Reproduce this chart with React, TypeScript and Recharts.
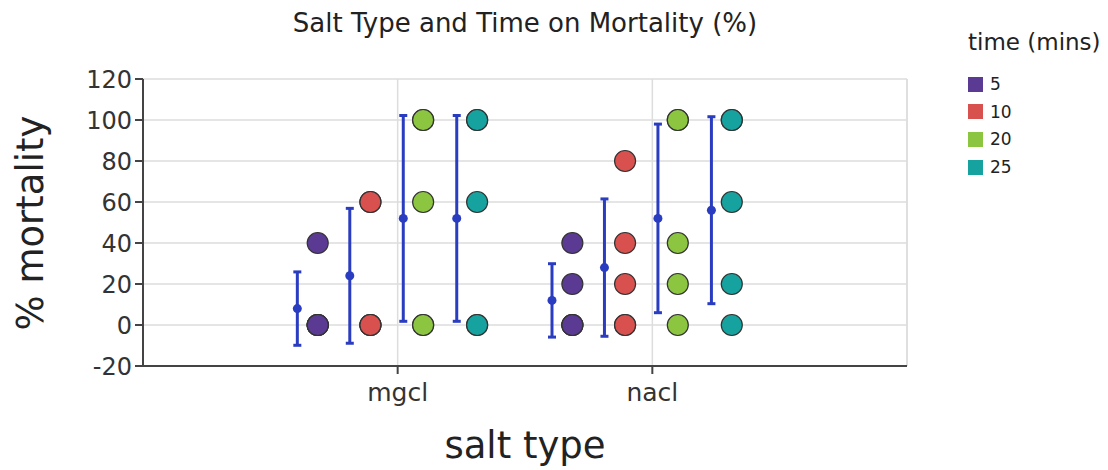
import React from "react";
import {
  ComposedChart,
  Scatter,
  XAxis,
  YAxis,
  CartesianGrid,
  ErrorBar,
  ReferenceLine,
} from "recharts";

const salts = ["mgcl", "nacl"];
const times = ["5", "10", "20", "25"];
const colors = ["#5b3a94", "#d9514f", "#8cc641", "#16a39f"];
const yTicks = [-20, 0, 20, 40, 60, 80, 100, 120];

// mortality readings per salt, per time (5 reps)
const mgclValues = [
  [0, 0, 0, 0, 40],
  [0, 0, 0, 60, 60],
  [0, 0, 60, 100, 100],
  [0, 0, 60, 100, 100],
];
const naclValues = [
  [0, 0, 0, 20, 40],
  [0, 0, 20, 40, 80],
  [0, 20, 40, 100, 100],
  [0, 20, 60, 100, 100],
];

// means and standard deviations
const mgclMean = [8, 24, 52, 52];
const mgclSd = [17.9, 32.9, 50.2, 50.2];
const naclMean = [12, 28, 52, 56];
const naclSd = [17.9, 33.5, 46, 45.6];

const dotOffset = [-0.314, -0.107, 0.1, 0.312];
const barOffset = [-0.394, -0.188, 0.022, 0.232];

const FONT = "'DejaVu Sans', sans-serif";

const pointsFor = (t: number) => [
  ...mgclValues[t].map((v) => ({ x: 1 + dotOffset[t], y: v })),
  ...naclValues[t].map((v) => ({ x: 2 + dotOffset[t], y: v })),
];

const summary = [
  ...mgclMean.map((m, t) => ({ x: 1 + barOffset[t], y: m, err: mgclSd[t] })),
  ...naclMean.map((m, t) => ({ x: 2 + barOffset[t], y: m, err: naclSd[t] })),
];

const Dot = (color: string) => (props: any) => (
  <circle cx={props.cx} cy={props.cy} r={10.5} fill={color} stroke="#333" strokeWidth={1.2} />
);

const MeanDot = (props: any) => <circle cx={props.cx} cy={props.cy} r={4.5} fill="#2a3cc0" />;

export default function App() {
  return (
    <div style={{ position: "absolute", left: 0, top: 0, width: 1108, height: 470, fontFamily: FONT }}>
      <div
        style={{
          position: "absolute",
          left: 143,
          width: 764,
          top: 8,
          lineHeight: "30px",
          textAlign: "center",
          fontSize: 26,
          color: "#222",
        }}
      >
        Salt Type and Time on Mortality (%)
      </div>
      <div
        style={{
          position: "absolute",
          left: 143,
          width: 764,
          top: 424,
          lineHeight: "44px",
          textAlign: "center",
          fontSize: 37,
          color: "#222",
        }}
      >
        salt type
      </div>
      <div
        style={{
          position: "absolute",
          left: 31,
          top: 223,
          lineHeight: "44px",
          transform: "translate(-50%, -50%) rotate(-90deg)",
          whiteSpace: "nowrap",
          fontSize: 37,
          color: "#222",
        }}
      >
        % mortality
      </div>
      <div style={{ position: "absolute", left: 968, top: 28, lineHeight: "28px", fontSize: 23, color: "#222" }}>
        time (mins)
      </div>
      {times.map((t, i) => (
        <div
          key={t}
          style={{
            position: "absolute",
            left: 968,
            top: 74 + i * 27.7,
            lineHeight: "20px",
            display: "flex",
            alignItems: "center",
            fontSize: 17,
            color: "#222",
          }}
        >
          <span style={{ width: 15, height: 15, background: colors[i], display: "inline-block", marginRight: 7 }} />
          {t}
        </div>
      ))}
      <ComposedChart width={1108} height={470} margin={{ top: 79, right: 201, bottom: 69, left: 63 }}>
        <CartesianGrid stroke="#dddddd" strokeWidth={1.5} />
        <XAxis
          type="number"
          dataKey="x"
          domain={[0, 3]}
          ticks={[1, 2]}
          tickFormatter={(v) => salts[v - 1]}
          height={35}
          stroke="#444"
          strokeWidth={2}
          tickSize={8}
          tick={{ fill: "#333", fontSize: 25, fontFamily: FONT }}
          tickMargin={9}
        />
        <YAxis
          type="number"
          dataKey="y"
          domain={[-20, 120]}
          ticks={yTicks}
          width={80}
          stroke="#444"
          strokeWidth={2}
          tickSize={8}
          tick={{ fill: "#333", fontSize: 24, fontFamily: FONT }}
          tickMargin={3}
          interval={0}
        />
        <ReferenceLine x={3} stroke="#dddddd" strokeWidth={1.5} />
        {times.map((t, i) => (
          <Scatter
            key={t}
            name={t}
            data={pointsFor(i)}
            shape={Dot(colors[i])}
            isAnimationActive={false}
          />
        ))}
        <Scatter data={summary} shape={MeanDot} isAnimationActive={false}>
          <ErrorBar dataKey="err" direction="y" width={4} stroke="#2a3cc0" strokeWidth={3} />
        </Scatter>
      </ComposedChart>
    </div>
  );
}
